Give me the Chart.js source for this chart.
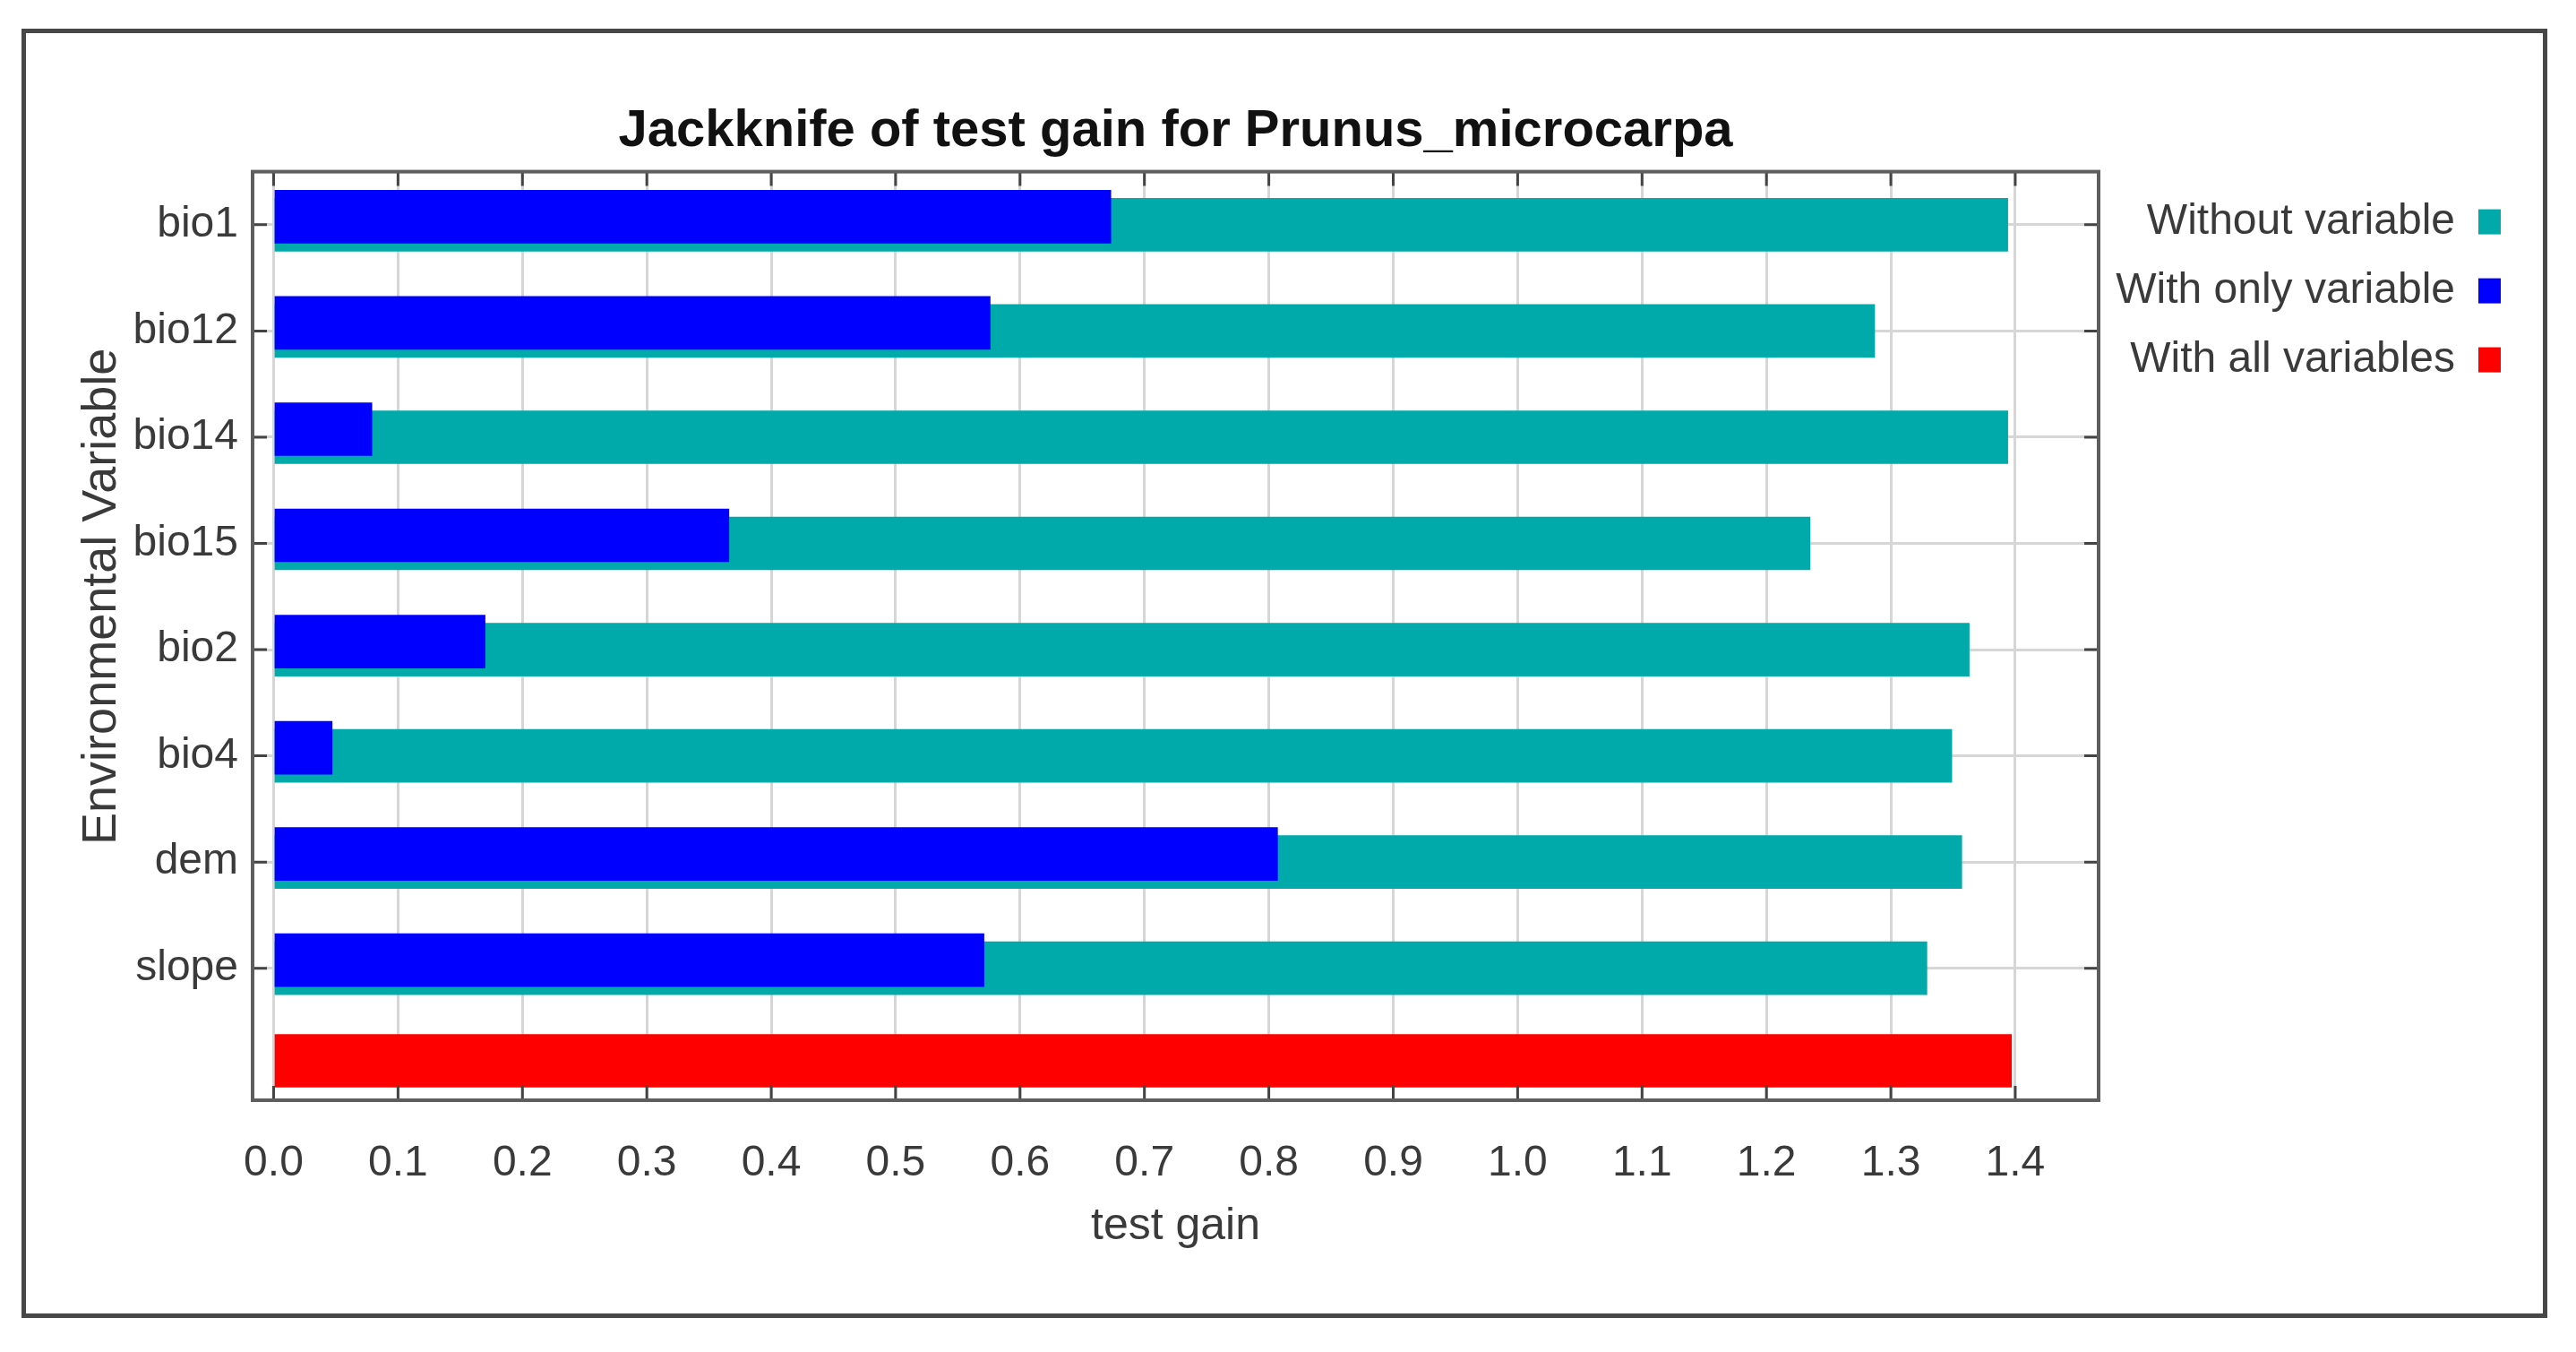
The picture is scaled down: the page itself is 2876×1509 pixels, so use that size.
<!DOCTYPE html>
<html>
<head>
<meta charset="utf-8">
<title>Jackknife of test gain</title>
<script src="https://cdn.jsdelivr.net/npm/chart.js@4.4.1/dist/chart.umd.min.js"></script>
<style>
  html, body { margin: 0; padding: 0; background: #fff; }
  #wrap { position: relative; width: 2876px; height: 1509px; }
  #frame {
    position: absolute; left: 24px; top: 32px; width: 2810px; height: 1429px;
    border: 5px solid #474747; pointer-events: none;
  }
</style>
</head>
<body>
<div id="wrap">
  <canvas id="chart" width="2876" height="1509"></canvas>
  <div id="frame"></div>
</div>
<script>
/*================== data =========================*/
const variables = ['bio1', 'bio12', 'bio14', 'bio15', 'bio2', 'bio4', 'dem', 'slope'];
const withoutVariable = [1.394, 1.287, 1.394, 1.235, 1.363, 1.349, 1.357, 1.329];
const withOnlyVariable = [0.673, 0.576, 0.079, 0.366, 0.170, 0.047, 0.807, 0.571];
const withAllVariables = [1.397];
const xTicks = [0, 0.1, 0.2, 0.3, 0.4, 0.5, 0.6, 0.7, 0.8, 0.9, 1.0, 1.1, 1.2, 1.3, 1.4];

const sans = "'Liberation Sans', Arial, sans-serif";
const teal = '#00aaaa';
const blue = '#0000ff';
const red = '#ff0000';
const gridColor = '#d6d6d6';

/*================== frame + inward ticks + legend =========================*/
const framePlugin = {
    id: 'framePlugin',
    beforeDatasetDraw(chart, args) {
        // "with only" bars sit a little higher than the others
        if (args.index === 1) {
            chart.ctx.save();
            chart.ctx.translate(0, -9);
        }
    },
    afterDatasetDraw(chart, args) {
        if (args.index === 1) chart.ctx.restore();
    },
    afterDraw(chart) {
        const ctx = chart.ctx;
        const a = chart.chartArea;
        const x = chart.scales.x;
        const y = chart.scales.y;
        const len = 16;
        ctx.save();
        ctx.strokeStyle = '#444';
        ctx.lineWidth = 3;
        ctx.beginPath();
        xTicks.forEach(v => {
            const px = x.getPixelForValue(v);
            ctx.moveTo(px, a.top); ctx.lineTo(px, a.top + len);
            ctx.moveTo(px, a.bottom); ctx.lineTo(px, a.bottom - len);
        });
        variables.forEach((v, i) => {
            const py = y.getPixelForTick(i);
            ctx.moveTo(a.left, py); ctx.lineTo(a.left + len, py);
            ctx.moveTo(a.right, py); ctx.lineTo(a.right - len, py);
        });
        ctx.stroke();
        ctx.lineWidth = 4;
        ctx.strokeStyle = '#5e5e5e';
        ctx.strokeRect(a.left, a.top, a.right - a.left, a.bottom - a.top);

        // legend: text first, colour box after it
        ctx.font = '48px ' + sans;
        ctx.textAlign = 'right';
        ctx.textBaseline = 'middle';
        chart.data.datasets.forEach((ds, i) => {
            const ly = a.top + 56 + i * 77;
            ctx.fillStyle = '#3a3a3a';
            ctx.fillText(ds.label, a.right + 398, ly);
            ctx.fillStyle = ds.backgroundColor;
            ctx.fillRect(a.right + 424, ly - 14, 25, 28);
        });
        ctx.restore();
    }
};

const ctx = document.getElementById('chart').getContext('2d');

const jackknife = new Chart(ctx, {
    type: 'bar',
    data: {
        datasets: [{
            label: 'Without variable',
            data: withoutVariable,
            backgroundColor: teal,
            yAxisID: 'y',
            order: 1
        }, {
            label: 'With only variable',
            data: withOnlyVariable,
            backgroundColor: blue,
            yAxisID: 'y',
            order: 0
        }, {
            label: 'With all variables',
            data: withAllVariables,
            backgroundColor: red,
            yAxisID: 'y2',
            order: 2
        }]
    },
    options: {
        indexAxis: 'y',
        responsive: false,
        animation: false,
        devicePixelRatio: 1,
        layout: { padding: { left: 0, top: 0, right: 533, bottom: 0 } },
        datasets: {
            bar: { grouped: false, barThickness: 59 }
        },
        scales: {
            x: {
                type: 'linear',
                position: 'bottom',
                min: -0.0169,
                max: 1.467,
                afterBuildTicks: (scale) => { scale.ticks = xTicks.map(v => ({ value: v })); },
                afterFit: (scale) => { scale.height = 281; },
                grid: { color: gridColor, lineWidth: 3, drawTicks: false },
                border: { display: false },
                ticks: {
                    padding: 42,
                    color: '#3a3a3a',
                    font: { family: sans, size: 48 },
                    callback: (v) => Number(v).toFixed(1)
                },
                title: {
                    display: true,
                    text: 'test gain',
                    color: '#3a3a3a',
                    font: { family: sans, size: 50 },
                    padding: { top: 0, bottom: 110 }
                }
            },
            // the red row is listed first so it is placed below the variable rows
            y2: {
                type: 'category',
                labels: ['all'],
                position: 'left',
                stack: 'rows',
                stackWeight: 88,
                offset: true,
                afterFit: (scale) => { scale.width = 282; },
                grid: { display: false },
                border: { display: false },
                ticks: { display: false }
            },
            y: {
                type: 'category',
                labels: variables,
                position: 'left',
                stack: 'rows',
                stackWeight: 948,
                offset: true,
                afterFit: (scale) => { scale.width = 282; },
                grid: { color: gridColor, lineWidth: 3, drawTicks: false, offset: false },
                border: { display: false },
                ticks: {
                    padding: 16,
                    color: '#3a3a3a',
                    font: { family: sans, size: 48 }
                },
                title: {
                    display: true,
                    text: 'Environmental Variable',
                    color: '#3a3a3a',
                    font: { family: sans, size: 54 },
                    padding: { top: 82, bottom: 0 }
                }
            }
        },
        plugins: {
            legend: { display: false },
            tooltip: { enabled: false },
            title: {
                display: true,
                fullSize: false,
                text: 'Jackknife of test gain for Prunus_microcarpa',
                color: '#111',
                font: { family: sans, size: 58, weight: 'bold' },
                padding: { top: 112, bottom: 10 }
            }
        }
    },
    plugins: [framePlugin]
});
</script>
</body>
</html>
